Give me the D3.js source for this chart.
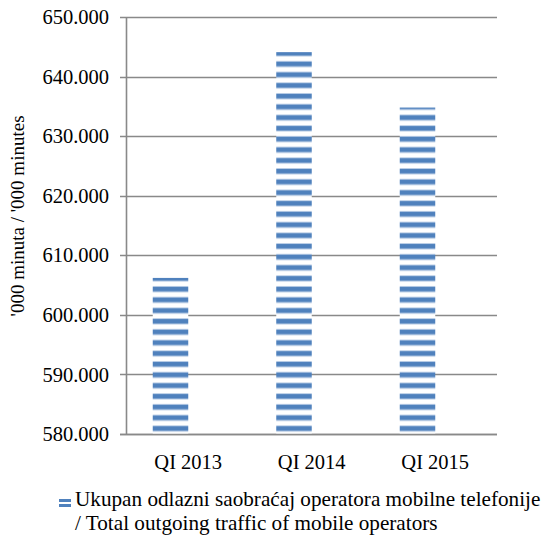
<!DOCTYPE html>
<html>
<head>
<meta charset="utf-8">
<script src="https://cdn.jsdelivr.net/npm/d3@7"></script>
<style>
  body { margin: 0; background: #fff; }
</style>
</head>
<body>
<div id="chart"></div>
<script>
// data
var categories = ["QI 2013", "QI 2014", "QI 2015"];
var values = [606200, 644100, 634800];
var yTicks = [580000, 590000, 600000, 610000, 620000, 630000, 640000, 650000];
var seriesName = ["Ukupan odlazni saobraćaj operatora mobilne telefonije", "/ Total outgoing traffic of mobile operators"];
var yTitle = "'000 minuta / '000 minutes";

var W = 545, H = 535;
var FONT = "'Liberation Serif', 'DejaVu Serif', serif";
var locale = d3.formatLocale({decimal: ",", thousands: ".", grouping: [3], currency: ["", ""]});
var fmt = locale.format(",.0f");

var svg = d3.select("#chart").append("svg")
    .attr("width", W).attr("height", H);

var defs = svg.append("defs");
// horizontal stripe fill, like the excel "dark horizontal" pattern
var pat = defs.append("pattern")
    .attr("id", "stripes")
    .attr("patternUnits", "userSpaceOnUse")
    .attr("x", 0).attr("y", 425.3)
    .attr("width", 10).attr("height", 10.72);
pat.append("rect").attr("width", 10).attr("height", 10.72).attr("fill", "#fff");
pat.append("rect").attr("y", 0).attr("width", 10).attr("height", 6.4).attr("fill", "#b9cde6");
pat.append("rect").attr("y", 1).attr("width", 10).attr("height", 4.4).attr("fill", "#4f81bd");

var plotLeft = 126.5, plotRight = 497, plotTop = 17, plotBottom = 434;

var y = d3.scaleLinear().domain([580000, 650000]).range([plotBottom, plotTop]);
var x = d3.scaleBand().domain(categories).range([plotLeft, plotRight]).padding(0);
var barW = 35.5;

// gridlines
svg.append("g").selectAll("line.grid").data(yTicks).enter()
    .append("line").attr("class", "grid")
    .attr("x1", plotLeft - 6.5).attr("x2", plotRight)
    .attr("y1", function(d){return Math.round(y(d)) + 0.5;})
    .attr("y2", function(d){return Math.round(y(d)) + 0.5;})
    .attr("stroke", "#898989").attr("stroke-width", 1.6);

// bars (sit left of the category centre, as in the source)
svg.append("g").selectAll("rect.bar").data(values).enter()
    .append("rect").attr("class", "bar")
    .attr("x", function(d, i){return x(categories[i]) + x.bandwidth()/2 - barW;})
    .attr("y", function(d){return y(d);})
    .attr("width", barW)
    .attr("height", function(d){return plotBottom - y(d);})
    .attr("fill", "url(#stripes)");

// y axis line
svg.append("line")
    .attr("x1", plotLeft).attr("x2", plotLeft)
    .attr("y1", plotTop).attr("y2", plotBottom + 0.5)
    .attr("stroke", "#898989").attr("stroke-width", 1.6);
// baseline on top of bars
svg.append("line")
    .attr("x1", plotLeft - 6.5).attr("x2", plotRight)
    .attr("y1", Math.round(y(580000)) + 0.5).attr("y2", Math.round(y(580000)) + 0.5)
    .attr("stroke", "#898989").attr("stroke-width", 1.6);

// y tick labels
svg.append("g").selectAll("text.ytick").data(yTicks).enter()
    .append("text").attr("class", "ytick")
    .attr("x", 109).attr("y", function(d){return y(d);})
    .attr("dy", "0.35em")
    .attr("text-anchor", "end")
    .attr("font-family", FONT)
    .attr("font-size", 20.5)
    .text(fmt);

// x labels
svg.append("g").selectAll("text.xtick").data(categories).enter()
    .append("text").attr("class", "xtick")
    .attr("x", function(d){return x(d) + x.bandwidth()/2;})
    .attr("y", 469)
    .attr("text-anchor", "middle")
    .attr("font-family", FONT)
    .attr("font-size", 20.5)
    .text(function(d){return d;});

// y title
svg.append("text")
    .attr("transform", "translate(24,216) rotate(-90)")
    .attr("text-anchor", "middle")
    .attr("font-family", FONT)
    .attr("font-size", 19)
    .text(yTitle);

// legend
var lp = defs.append("pattern")
    .attr("id", "legstripes")
    .attr("patternUnits", "userSpaceOnUse")
    .attr("x", 0).attr("y", 499)
    .attr("width", 10).attr("height", 5);
lp.append("rect").attr("width", 10).attr("height", 5).attr("fill", "#fff");
lp.append("rect").attr("y", 0).attr("width", 10).attr("height", 3).attr("fill", "#4f81bd");
var lg = svg.append("g");
lg.append("rect").attr("x", 59).attr("y", 499).attr("width", 12).attr("height", 10)
    .attr("fill", "url(#legstripes)");
lg.selectAll("text").data(seriesName).enter()
    .append("text")
    .attr("x", 75).attr("y", function(d, i){return 506 + i*24;})
    .attr("font-family", FONT)
    .attr("font-size", 21.2)
    .text(function(d){return d;});
</script>
</body>
</html>
